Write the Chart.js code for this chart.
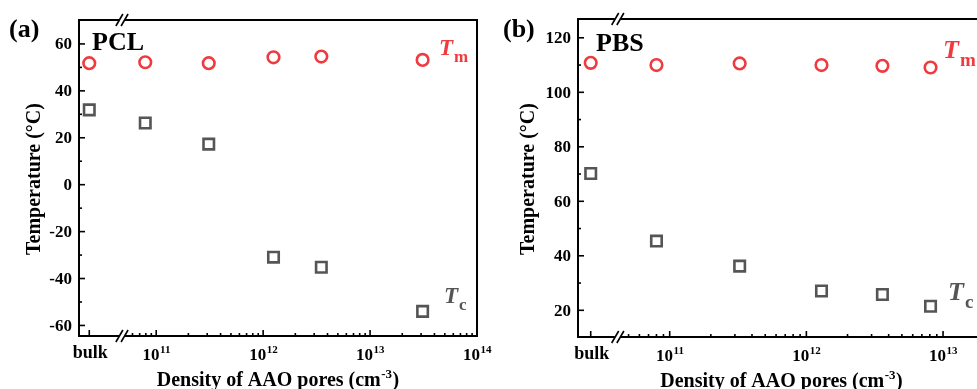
<!DOCTYPE html>
<html>
<head>
<meta charset="utf-8">
<script src="https://cdn.jsdelivr.net/npm/chart.js@4/dist/chart.umd.min.js"></script>
<style>
    html, body { margin: 0; padding: 0; background: #fff; }
    #wrap { position: relative; width: 977px; height: 389px; overflow: hidden; }
    canvas { position: absolute; top: 0; }
</style>
</head>
<body>
<div id="wrap">
    <canvas id="chartA" width="500" height="389" style="left:0"></canvas>
    <canvas id="chartB" width="520" height="389" style="left:495px"></canvas>
</div>
<script>
// pore densities (cm^-3); the bulk sample has no pores and sits left of the axis break
var pclDensity = [7.9e10, 3.1e11, 1.25e12, 3.5e12, 3.1e13];
var pclTm = [51.8, 52.2, 51.8, 54.3, 54.6, 53.2];   // bulk first
var pclTc = [31.9, 26.3, 17.3, -30.9, -35.2, -54.0];

var pbsDensity = [8.0e10, 3.25e11, 1.29e12, 3.6e12, 8.1e12];
var pbsTm = [110.8, 110.0, 110.6, 110.0, 109.7, 109.1];
var pbsTc = [70.2, 45.4, 36.2, 27.1, 25.8, 21.5];

var pclYTicks = [-60, -40, -20, 0, 20, 40, 60];
var pbsYTicks = [20, 40, 60, 80, 100, 120];

(function () {
    var serif = "'Liberation Serif', 'Times New Roman', serif";
    var colors = { red: '#ef3b3f', gray: '#555555', ink: '#000000' };

    function points(bulkX, density, values) {
        var xs = [bulkX].concat(density);
        return values.map(function (v, i) { return { x: xs[i], y: v }; });
    }

    function font(size, style) {
        return (style || 'bold') + ' ' + size + 'px ' + serif;
    }

    // "10" with a raised exponent, centred on x
    function drawPower(ctx, x, y, exp, size) {
        var small = Math.round(size * 0.64);
        ctx.font = font(size);
        var w1 = ctx.measureText('10').width;
        ctx.font = font(small);
        var w2 = ctx.measureText(exp).width;
        var left = x - (w1 + w2) / 2;
        ctx.textAlign = 'left';
        ctx.textBaseline = 'alphabetic';
        ctx.font = font(size);
        ctx.fillText('10', left, y);
        ctx.font = font(small);
        ctx.fillText(exp, left + w1 + 0.5, y - size * 0.42);
    }

    function drawBreak(ctx, x, y) {
        ctx.save();
        ctx.fillStyle = '#fff';
        ctx.fillRect(x - 3, y - 2, 6, 4);
        ctx.strokeStyle = colors.ink;
        ctx.lineWidth = 1.6;
        [-2.6, 2.6].forEach(function (d) {
            ctx.beginPath();
            ctx.moveTo(x + d - 3.5, y + 6);
            ctx.lineTo(x + d + 3.5, y - 6);
            ctx.stroke();
        });
        ctx.restore();
    }

    function drawSymbol(ctx, t, x, y, size, color) {
        ctx.fillStyle = color;
        ctx.textAlign = 'left';
        ctx.textBaseline = 'alphabetic';
        ctx.font = font(size, 'italic bold');
        ctx.fillText('T', x, y);
        var w = ctx.measureText('T').width;
        ctx.font = font(Math.round(size * 0.72));
        ctx.fillText(t, x + w + 1, y + size * 0.3);
    }

    function axesPlugin(p) {
        return {
            id: 'frameAxes',
            afterDraw: function (chart) {
                var ctx = chart.ctx;
                var a = chart.chartArea;
                var xs = chart.scales.x;
                var ys = chart.scales.y;
                var bx = xs.getPixelForValue(Math.pow(10, p.breakAt));
                var bulkPx = xs.getPixelForValue(Math.pow(10, p.bulkAt));

                ctx.save();
                ctx.strokeStyle = colors.ink;
                ctx.lineWidth = 2;
                ctx.strokeRect(a.left, a.top, a.right - a.left, a.bottom - a.top);

                // y ticks, inward
                ctx.lineWidth = 1.6;
                ctx.fillStyle = colors.ink;
                ctx.font = font(17);
                ctx.textAlign = 'right';
                ctx.textBaseline = 'middle';
                var v;
                for (v = Math.ceil(ys.min / 10) * 10; v <= ys.max; v += 10) {
                    var py = ys.getPixelForValue(v);
                    if (py < a.top + 2 || py > a.bottom - 2) { continue; }
                    var major = p.yTicks.indexOf(v) !== -1;
                    ctx.beginPath();
                    ctx.moveTo(a.left, py);
                    ctx.lineTo(a.left + (major ? 6 : 3), py);
                    ctx.stroke();
                    if (major) { ctx.fillText(String(v), a.left - 7, py + 1); }
                }

                // x ticks, inward
                function xTick(px, len) {
                    ctx.beginPath();
                    ctx.moveTo(px, a.bottom);
                    ctx.lineTo(px, a.bottom - len);
                    ctx.stroke();
                }
                xTick(bulkPx, 6);
                var lo = Math.floor(p.breakAt), hi = Math.ceil(Math.log10(xs.max));
                for (var k = lo; k <= hi; k++) {
                    var dec = Math.pow(10, k);
                    if (k > p.breakAt && dec <= xs.max * 1.0001) {
                        xTick(xs.getPixelForValue(dec), 6);
                        drawPower(ctx, xs.getPixelForValue(dec), a.bottom + 24, String(k), 17);
                    }
                    for (var m = 2; m <= 9; m++) {
                        var val = m * dec;
                        if (Math.log10(val) > p.breakAt + 0.02 && val < xs.max) {
                            xTick(xs.getPixelForValue(val), 3);
                        }
                    }
                }
                ctx.font = font(18);
                ctx.textAlign = 'center';
                ctx.textBaseline = 'alphabetic';
                ctx.fillText('bulk', bulkPx + 1, a.bottom + 22);

                drawBreak(ctx, bx, a.bottom);
                drawBreak(ctx, bx, a.top);

                // axis titles
                ctx.font = font(20);
                var t1 = 'Density of AAO pores (cm', t2 = ')';
                var w1 = ctx.measureText(t1).width, w3 = ctx.measureText(t2).width;
                ctx.font = font(13);
                var w2 = ctx.measureText('-3').width;
                var cx = (a.left + a.right) / 2;
                var left = cx - (w1 + w2 + w3 + 1) / 2;
                var base = a.bottom + 50;
                ctx.textAlign = 'left';
                ctx.font = font(20);
                ctx.fillText(t1, left, base);
                ctx.font = font(13);
                ctx.fillText('-3', left + w1 + 0.5, base - 8);
                ctx.font = font(20);
                ctx.fillText(t2, left + w1 + w2 + 1, base);

                ctx.save();
                ctx.translate(p.yTitleX, (a.top + a.bottom) / 2 + 1);
                ctx.rotate(-Math.PI / 2);
                ctx.textAlign = 'center';
                ctx.textBaseline = 'middle';
                ctx.fillText('Temperature (\u00B0C)', 0, 0);
                ctx.restore();

                // panel letter, polymer name, series symbols
                ctx.font = font(26);
                ctx.textAlign = 'left';
                ctx.fillText(p.letter, p.letterX, 37);
                ctx.fillText(p.name, p.nameX, p.nameY);
                drawSymbol(ctx, 'm', p.tmLabel[0], p.tmLabel[1], p.symbolSize, colors.red);
                drawSymbol(ctx, 'c', p.tcLabel[0], p.tcLabel[1], p.symbolSize, colors.gray);
                ctx.restore();
            }
        };
    }

    function makeChart(id, p) {
        new Chart(document.getElementById(id), {
            type: 'scatter',
            data: {
                datasets: [
                    {
                        label: 'Tm',
                        data: points(Math.pow(10, p.bulkAt), p.density, p.tm),
                        pointStyle: 'circle',
                        pointRadius: 5.8,
                        borderWidth: 2.6,
                        borderColor: colors.red,
                        backgroundColor: '#fff'
                    },
                    {
                        label: 'Tc',
                        data: points(Math.pow(10, p.bulkAt), p.density, p.tc),
                        pointStyle: 'rect',
                        pointRadius: 7.4,
                        borderWidth: 2.6,
                        borderColor: colors.gray,
                        backgroundColor: '#fff'
                    }
                ]
            },
            options: {
                responsive: false,
                animation: false,
                devicePixelRatio: 1,
                layout: { padding: p.padding },
                plugins: { legend: { display: false }, tooltip: { enabled: false } },
                scales: {
                    x: { type: 'logarithmic', display: false, min: Math.pow(10, p.xMinLog), max: Math.pow(10, p.xMaxLog) },
                    y: { type: 'linear', display: false, min: p.yMin, max: p.yMax }
                }
            },
            plugins: [axesPlugin(p)]
        });
    }

    makeChart('chartA', {
        density: pclDensity, tm: pclTm, tc: pclTc, yTicks: pclYTicks,
        xMinLog: 10.278, xMaxLog: 14, bulkAt: 10.374, breakAt: 10.68,
        yMin: -64.5, yMax: 70.2,
        padding: { left: 79, right: 23, top: 20, bottom: 53 },
        yTitleX: 35, letter: '(a)', letterX: 9, name: 'PCL', nameX: 92, nameY: 50,
        tmLabel: [439, 55], tcLabel: [444, 303], symbolSize: 23
    });

    makeChart('chartB', {
        density: pbsDensity, tm: pbsTm, tc: pbsTc, yTicks: pbsYTicks,
        xMinLog: 10.329, xMaxLog: 13.307, bulkAt: 10.422, breakAt: 10.62,
        yMin: 10.2, yMax: 126.9,
        padding: { left: 83, right: 30, top: 19, bottom: 52 },
        yTitleX: 34, letter: '(b)', letterX: 8, name: 'PBS', nameX: 101, nameY: 51,
        tmLabel: [448, 58], tcLabel: [453, 300], symbolSize: 26
    });
}());
</script>
</body>
</html>
